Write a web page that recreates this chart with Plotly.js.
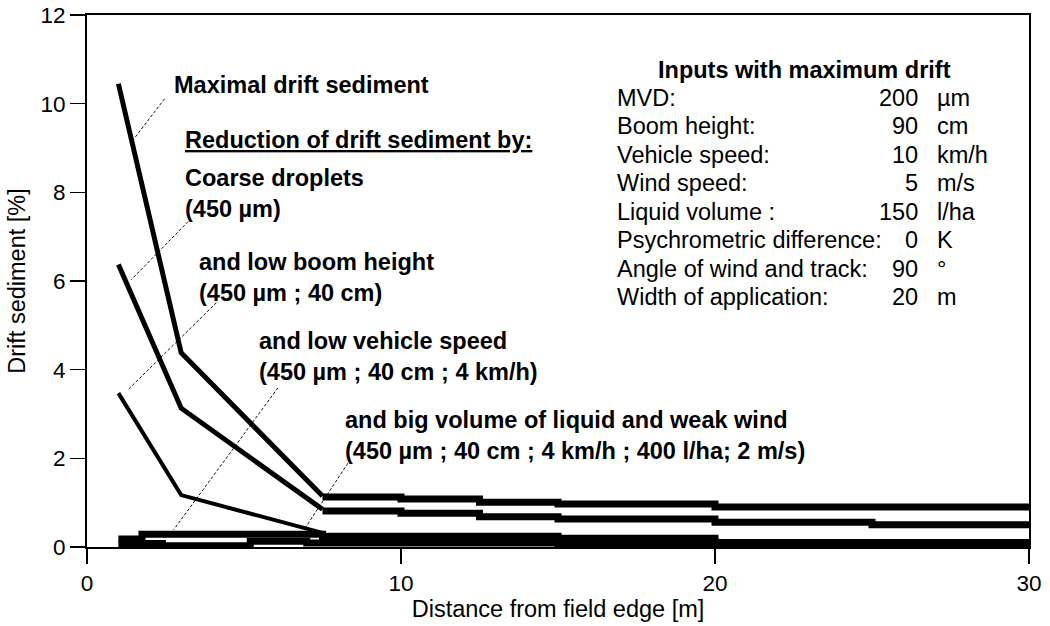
<!DOCTYPE html>
<html>
<head>
<meta charset="utf-8">
<script src="https://cdn.plot.ly/plotly-3.0.1.min.js"></script>
<style>html,body{margin:0;padding:0;background:#fff;}#chart{width:1050px;height:626px;}</style>
</head>
<body>
<div id="chart"></div>
<script>
// ---- data ----
const nearDist = [1, 3, 7.5];
const farDist = [7.5, 10, 12.5, 15, 20, 25, 30];

const maxDriftNear = [10.45, 4.38, 1.15];
const maxDriftFar = [1.13, 1.08, 1.01, 0.97, 0.90, 0.90, 0.90];

const coarseNear = [6.37, 3.13, 0.85];
const coarseFar = [0.81, 0.76, 0.68, 0.63, 0.56, 0.50, 0.50];

const lowBoomNear = [3.47, 1.17, 0.32];
const lowBoomFar = [0.24, 0.24, 0.24, 0.20, 0.10, 0.10, 0.10];

const lowSpeedDist = [1, 1.75, 7.5, 15, 20, 30];
const lowSpeedVals = [0.18, 0.29, 0.17, 0.12, 0.06, 0.06];

const bigVolumeDist = [1, 2.4, 5.2, 7, 15, 30];
const bigVolumeVals = [0.08, 0.03, 0.13, 0.09, 0.0, 0.0];

const xTicks = [0, 10, 20, 30];
const yTicks = [0, 2, 4, 6, 8, 10, 12];

const inputLabels = ["MVD:", "Boom height:", "Vehicle speed:", "Wind speed:", "Liquid volume :",
  "Psychrometric difference:", "Angle of wind and track:", "Width of application:"];
const inputValues = [200, 90, 10, 5, 150, 0, 90, 20];
const inputUnits = ["µm", "cm", "km/h", "m/s", "l/ha", "K", "°", "m"];

const seriesLabels = [
  "<b>Maximal drift sediment</b>",
  "<b>Coarse droplets<br>(450 µm)</b>",
  "<b>and low boom height<br>(450 µm ; 40 cm)</b>",
  "<b>and low vehicle speed<br>(450 µm ; 40 cm ; 4 km/h)</b>",
  "<b>and big volume of liquid and weak wind<br>(450 µm ; 40 cm ; 4 km/h ; 400 l/ha; 2 m/s)</b>"
];

// ---- traces ----
const FONT = "Liberation Sans, Arial, sans-serif";
function line(x, y, w, shape) {
  return {x: x, y: y, type: "scatter", mode: "lines", showlegend: false, hoverinfo: "skip",
    line: {color: "#000", width: w, shape: shape || "linear"}};
}
const traces = [
  line(nearDist, maxDriftNear, 5),
  line(farDist, maxDriftFar, 7, "hv"),
  line(nearDist, coarseNear, 5),
  line(farDist, coarseFar, 7, "hv"),
  line(nearDist, lowBoomNear, 4),
  line(farDist, lowBoomFar, 7, "hv"),
  line(lowSpeedDist, lowSpeedVals, 7, "hv"),
  line(bigVolumeDist, bigVolumeVals, 7, "hv")
];

// ---- leader lines ----
const leaders = [
  [2.47, 10.11, 1.52, 9.23],
  [3.22, 7.34, 1.41, 6.03],
  [4.12, 5.51, 1.31, 3.55],
  [6.08, 3.59, 2.76, 0.39],
  [8.31, 1.89, 6.93, 0.41]
];
const shapes = leaders.map(l => ({type: "line", xref: "x", yref: "y", x0: l[0], y0: l[1], x1: l[2], y1: l[3],
  layer: "below", line: {color: "#111", width: 1, dash: "3px,2px"}}));

// ---- annotations ----
const lblFont = {family: FONT, size: 23.5, color: "#000"};
const ann = [];
const lblPos = [[2.70, 10.43], [3.05, 7.97], [3.49, 6.09], [5.40, 4.30], [8.14, 2.51]];
seriesLabels.forEach((t, i) => ann.push({x: lblPos[i][0], y: lblPos[i][1], xref: "x", yref: "y", text: t,
  showarrow: false, xanchor: "left", yanchor: "middle", align: "left", font: lblFont}));
ann.push({x: 3.05, y: 9.19, xref: "x", yref: "y", text: "<b><u>Reduction of drift sediment by:</u></b>",
  showarrow: false, xanchor: "left", yanchor: "middle", align: "left", font: lblFont});
ann.push({x: 22.86, y: 10.77, xref: "x", yref: "y", text: "<b>Inputs with maximum drift</b>",
  showarrow: false, xanchor: "center", yanchor: "middle", font: lblFont});
const tblTop = 10.135, tblPitch = 0.643;
inputLabels.forEach((t, i) => {
  const yy = tblTop - i * tblPitch;
  ann.push({x: 16.8, y: yy, xref: "x", yref: "y", text: t, showarrow: false,
    xanchor: "left", yanchor: "middle", font: lblFont});
  ann.push({x: 26.52, y: yy, xref: "x", yref: "y", text: String(inputValues[i]), showarrow: false,
    xanchor: "right", yanchor: "middle", font: lblFont});
  ann.push({x: 27.0, y: yy, xref: "x", yref: "y", text: inputUnits[i], showarrow: false,
    xanchor: "left", yanchor: "middle", font: lblFont});
});

const axisCommon = {showgrid: false, zeroline: false, showline: true, linecolor: "#000", linewidth: 2,
  mirror: true, ticks: "outside", ticklen: 15, tickwidth: 1.5, tickcolor: "#000",
  tickfont: {family: FONT, size: 22.5, color: "#000"}};

const layout = {
  width: 1050, height: 626,
  margin: {l: 87, r: 21, t: 15, b: 79},
  paper_bgcolor: "#fff", plot_bgcolor: "#fff",
  font: {family: FONT, color: "#000"},
  xaxis: Object.assign({}, axisCommon, {range: [0, 30], tickvals: xTicks,
    title: {text: "Distance from field edge [m]", font: {family: FONT, size: 23.5, color: "#000"}, standoff: 6}}),
  yaxis: Object.assign({}, axisCommon, {range: [0, 12], tickvals: yTicks,
    title: {text: "Drift sediment [%]", font: {family: FONT, size: 23.5, color: "#000"}, standoff: 8}}),
  shapes: shapes,
  annotations: ann,
  showlegend: false
};

Plotly.newPlot("chart", traces, layout, {displayModeBar: false, staticPlot: true});
</script>
</body>
</html>
